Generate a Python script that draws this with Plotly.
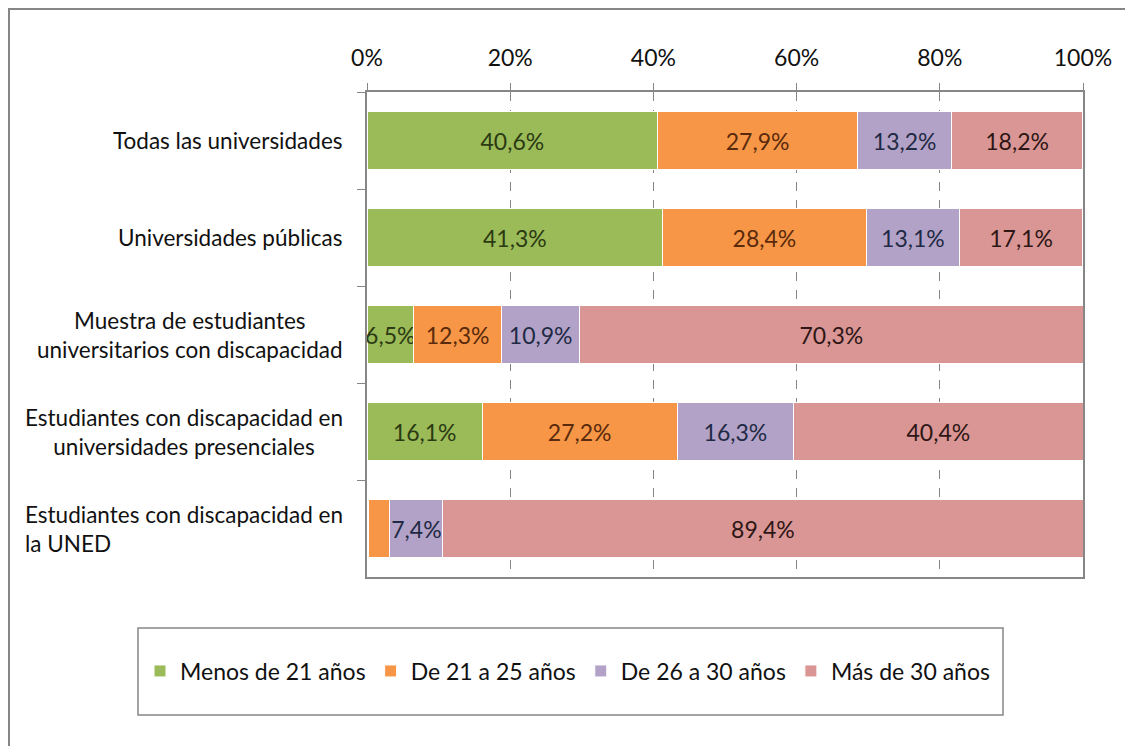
import plotly.graph_objects as go

categories = [
    "Todas las universidades",
    "Universidades públicas",
    "Muestra de estudiantes<br>universitarios con discapacidad",
    "Estudiantes con discapacidad en<br>universidades presenciales",
    "Estudiantes con discapacidad en<br>la UNED",
]
label_align = ["center", "center", "center", "center", "left"]

series_names = ["Menos de 21 años", "De 21 a 25 años", "De 26 a 30 años", "Más de 30 años"]
menos21 = [40.6, 41.3, 6.5, 16.1, 0.2]
de21a25 = [27.9, 28.4, 12.3, 27.2, 3.0]
de26a30 = [13.2, 13.1, 10.9, 16.3, 7.4]
mas30 = [18.2, 17.1, 70.3, 40.4, 89.4]

colors = ["#9BBB59", "#F79646", "#B3A2C7", "#D99694"]
text_colors = ["#2B3A12", "#5A2A0C", "#1F2A44", "#2E1616"]

FONT = "Lato"

fig = go.Figure()
for name, vals, col, tcol in zip(series_names, [menos21, de21a25, de26a30, mas30], colors, text_colors):
    # hide labels on the tiny segments like the original
    labels = [f"{v:.1f}%".replace(".", ",") if v >= 5 else "" for v in vals]
    fig.add_bar(
        name=name,
        y=categories,
        x=[v / 100 for v in vals],
        orientation="h",
        marker=dict(color=col, line=dict(color="white", width=1)),
        text=labels,
        textposition="inside",
        insidetextanchor="middle",
        textangle=0,
        textfont=dict(color=tcol, size=23, family=FONT),
        width=0.6,
    )

for cat, al in zip(categories, label_align):
    fig.add_annotation(
        x=0, y=cat, xref="x", yref="y",
        text=cat, showarrow=False,
        xanchor="right", xshift=-22, align=al,
        font=dict(size=22.5, family=FONT, color="#111"),
    )

# page body adds an 8px offset; plot area should sit at x 367-1083, y 92-577 on screen
fig.update_layout(
    barmode="stack",
    width=1133,
    height=746,
    margin=dict(l=359, r=58, t=84, b=177),
    paper_bgcolor="white",
    plot_bgcolor="white",
    showlegend=True,
    uniformtext=dict(minsize=23, mode="show"),
    legend=dict(
        orientation="h",
        x=(140 - 367) / 716, y=-(671 - 577) / 485,
        xanchor="left", yanchor="middle",
        font=dict(size=23, family=FONT, color="#111"),
        itemwidth=30, traceorder="normal",
    ),
    shapes=[
        dict(type="rect", xref="paper", yref="paper",
             x0=(138 - 367) / 716, x1=(1003 - 367) / 716,
             y0=-(715 - 577) / 485, y1=-(628 - 577) / 485,
             line=dict(color="#868686", width=1.5)),
        dict(type="rect", xref="paper", yref="paper",
             x0=(9 - 367) / 716, x1=(1150 - 367) / 716,
             y0=-(770 - 577) / 485, y1=(577 - 9) / 485,
             line=dict(color="#868686", width=2)),
    ],
)

fig.update_xaxes(
    side="top",
    range=[0, 1],
    tickvals=[0, 0.2, 0.4, 0.6, 0.8, 1.0],
    ticktext=["0%", "20%", "40%", "60%", "80%", "100%"],
    tickfont=dict(size=23, family=FONT, color="#111"),
    ticks="outside", ticklen=7, tickcolor="#868686",
    ticklabelstandoff=8,
    showline=True, linecolor="#868686", linewidth=1.5, mirror=True,
    showgrid=True, gridcolor="#868686", griddash="dash", gridwidth=1,
    zeroline=False,
)
fig.update_yaxes(
    autorange="reversed",
    showticklabels=False,
    tickson="boundaries",
    ticks="outside", ticklen=8, tickcolor="#868686",
    showline=True, linecolor="#868686", linewidth=2, mirror=True,
    showgrid=False,
)

fig.write_html("out.html")
